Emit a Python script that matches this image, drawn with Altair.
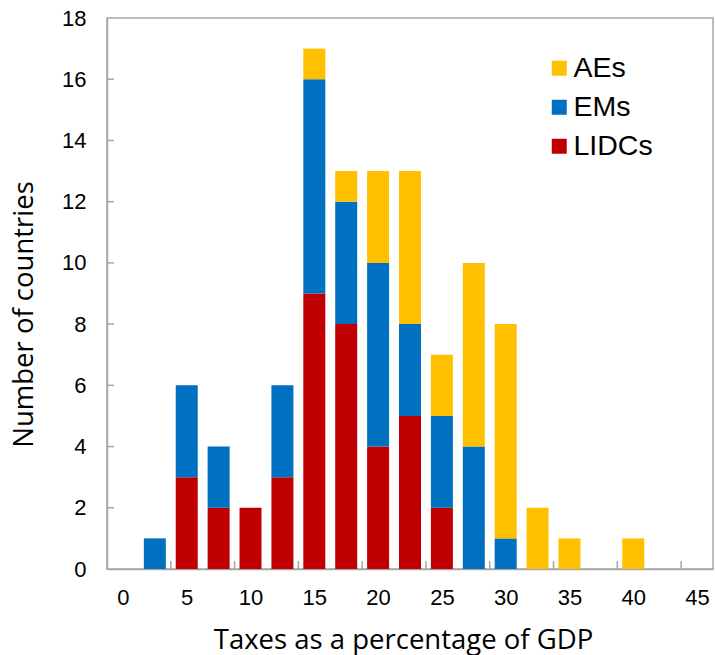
import altair as alt
import pandas as pd

# Data
bins = [2.5, 5, 7.5, 10, 12.5, 15, 17.5, 20, 22.5, 25, 27.5, 30, 32.5, 35, 40]
lidcs = [0, 3, 2, 2, 3, 9, 8, 4, 5, 2, 0, 0, 0, 0, 0]
ems = [1, 3, 2, 0, 3, 7, 4, 6, 3, 3, 4, 1, 0, 0, 0]
aes = [0, 0, 0, 0, 0, 1, 1, 3, 5, 2, 6, 7, 2, 1, 1]

groups = ["AEs", "EMs", "LIDCs"]
colors = ["#FFC000", "#0070C0", "#C00000"]
stack_rank = {"LIDCs": 1, "EMs": 2, "AEs": 3}

x_labels = [0, 5, 10, 15, 20, 25, 30, 35, 40, 45]
y_labels = [0, 2, 4, 6, 8, 10, 12, 14, 16, 18]
x_tick_marks = [3.75, 8.75, 13.75, 18.75, 23.75, 28.75, 33.75, 38.75, 43.75]
y_tick_marks = [2, 4, 6, 8, 10, 12, 14, 16]

rows = []
for name, series in (("LIDCs", lidcs), ("EMs", ems), ("AEs", aes)):
    for b, v in zip(bins, series):
        if v > 0:
            rows.append({"tax": b, "count": v, "group": name, "rank": stack_rank[name]})
df = pd.DataFrame(rows)

W, H = 606, 551
AXIS_COL = "#A6A6A6"

xscale = alt.Scale(domain=[-1.25, 46.25], nice=False, zero=False, padding=0)
yscale = alt.Scale(domain=[0, 18], nice=False, padding=0)

xaxis = alt.Axis(values=x_labels, title="Taxes as a percentage of GDP",
                 ticks=False, tickSize=0, labelPadding=18, grid=False,
                 labelFont="Liberation Sans", labelFontSize=22, labelColor="#000000",
                 titleFont="Open Sans", titleFontSize=27.5, titleFontWeight="normal",
                 titleColor="#000000", titleBaseline="alphabetic", titleY=79, titleX=296,
                 domainColor=AXIS_COL, domainWidth=1.5, labelFlush=False)
yaxis = alt.Axis(values=y_labels, title="Number of countries",
                 ticks=False, tickSize=0, labelPadding=21, grid=False,
                 labelFont="Liberation Sans", labelFontSize=22, labelColor="#000000",
                 titleFont="Open Sans", titleFontSize=27.5, titleFontWeight="normal",
                 titleColor="#000000", titleBaseline="alphabetic", titleX=-75, titleY=296,
                 titleAngle=-90, domainColor=AXIS_COL, domainWidth=1.5, labelFlush=False)

bars = alt.Chart(df).mark_bar(size=22).encode(
    x=alt.X("tax:Q", scale=xscale, axis=xaxis),
    y=alt.Y("count:Q", stack="zero", scale=yscale, axis=yaxis),
    color=alt.Color("group:N", scale=alt.Scale(domain=groups, range=colors),
                    legend=alt.Legend(title=None, orient="none", legendX=438, legendY=36,
                                      symbolType="square", symbolSize=225, symbolStrokeWidth=0,
                                      labelFont="Liberation Sans", labelFontSize=28.5,
                                      labelColor="#000000", labelOffset=0, rowPadding=10,
                                      padding=0)),
    order=alt.Order("rank:Q", sort="ascending"),
)

xticks = alt.Chart(pd.DataFrame({"v": x_tick_marks})).mark_rule(
    color=AXIS_COL, strokeWidth=1.5).encode(
    x=alt.X("v:Q", scale=xscale, axis=xaxis),
    y=alt.value(H), y2=alt.value(H - 8))

yticks = alt.Chart(pd.DataFrame({"v": y_tick_marks})).mark_rule(
    color=AXIS_COL, strokeWidth=1.5).encode(
    y=alt.Y("v:Q", scale=yscale, axis=yaxis),
    x=alt.value(0), x2=alt.value(7))

chart = alt.layer(bars, xticks, yticks).properties(
    width=W, height=H,
    autosize=alt.AutoSizeParams(type="none"),
    padding={"left": 107, "top": 18, "right": 2, "bottom": 86},
).configure_view(stroke=AXIS_COL, strokeWidth=1.5)

chart.save("out.html", embed_options={"renderer": "svg", "actions": False})
